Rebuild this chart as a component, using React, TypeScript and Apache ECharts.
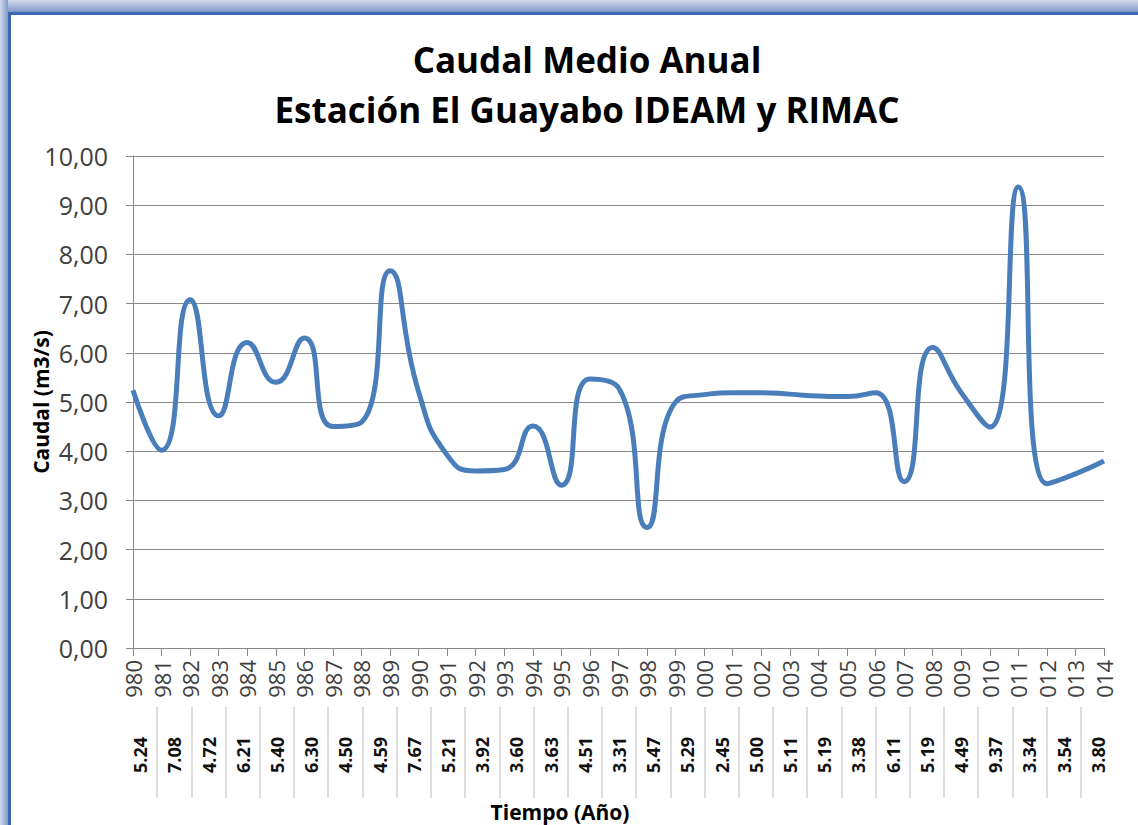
import React, { useEffect, useRef } from "react";
import * as echarts from "echarts";

const years = [
  "1980", "1981", "1982", "1983", "1984", "1985", "1986", "1987", "1988", "1989",
  "1990", "1991", "1992", "1993", "1994", "1995", "1996", "1997", "1998", "1999",
  "2000", "2001", "2002", "2003", "2004", "2005", "2006", "2007", "2008", "2009",
  "2010", "2011", "2012", "2013", "2014",
];

const caudal = [
  5.24, 4.02, 7.08, 4.72, 6.21, 5.40, 6.30, 4.50, 4.59, 7.67,
  5.21, 3.92, 3.60, 3.63, 4.51, 3.31, 5.47, 5.29, 2.45, 5.00,
  5.15, 5.19, 5.19, 5.16, 5.12, 5.11, 5.19, 3.38, 6.11, 5.19,
  4.49, 9.37, 3.34, 3.54, 3.80,
];

const tableValues = [
  "5.24", "7.08", "4.72", "6.21", "5.40", "6.30", "4.50", "4.59", "7.67", "5.21",
  "3.92", "3.60", "3.63", "4.51", "3.31", "5.47", "5.29", "2.45", "5.00", "5.11",
  "5.19", "3.38", "6.11", "5.19", "4.49", "9.37", "3.34", "3.54", "3.80",
];

const titleLines = ["Caudal Medio Anual", "Estación El Guayabo IDEAM y RIMAC"];
const yName = "Caudal (m3/s)";
const xName = "Tiempo (Año)";

const FONT = "'Open Sans', 'Noto Sans', sans-serif";

export default function App() {
  const ref = useRef<HTMLDivElement>(null);

  useEffect(() => {
    const chart = echarts.init(ref.current!, null, { renderer: "svg" });
    chart.setOption({
      animation: false,
      backgroundColor: "#ffffff",
      title: {
        text: titleLines.join("\n"),
        left: 582,
        textAlign: "center",
        top: 29,
        textStyle: {
          fontFamily: FONT,
          fontSize: 35,
          fontWeight: "bold",
          color: "#000",
          lineHeight: 50,
        },
      },
      grid: [
        { left: 133, top: 156, width: 971, height: 492 },
        { left: 123, top: 707, width: 992, height: 91 },
      ],
      xAxis: [
        {
          gridIndex: 0,
          type: "category",
          data: years,
          boundaryGap: false,
          axisLine: { lineStyle: { color: "#868686", width: 1 } },
          axisTick: { show: true, length: 8, lineStyle: { color: "#868686" } },
          axisLabel: {
            interval: 0,
            rotate: 90,
            margin: 12,
            fontSize: 22,
            fontFamily: FONT,
            color: "#404040",
            formatter: (v: string) => v.slice(1),
          },
          splitLine: { show: false },
        },
        {
          gridIndex: 1,
          type: "category",
          data: tableValues,
          position: "bottom",
          axisLine: { show: false },
          axisTick: { show: false },
          axisLabel: {
            interval: 0,
            inside: true,
            rotate: 90,
            margin: 25,
            fontSize: 18,
            fontWeight: "bold",
            fontFamily: FONT,
            color: "#111",
          },
          splitLine: {
            show: true,
            showMinLine: false,
            showMaxLine: false,
            lineStyle: { color: "#d2d2d2", width: 1.5 },
          },
        },
      ],
      yAxis: [
        {
          gridIndex: 0,
          type: "value",
          min: 0,
          max: 10,
          interval: 1,
          name: yName,
          nameLocation: "middle",
          nameGap: 82,
          nameMoveOverlap: false,
          nameTextStyle: {
            fontFamily: FONT,
            fontSize: 21,
            fontWeight: "bold",
            color: "#000",
          },
          axisLine: { show: true, lineStyle: { color: "#868686", width: 1 } },
          axisTick: { show: true, length: 7, lineStyle: { color: "#868686" } },
          axisLabel: {
            margin: 25,
            fontSize: 25,
            fontFamily: FONT,
            color: "#404040",
            formatter: (v: number) => v.toFixed(2).replace(".", ","),
          },
          splitLine: { show: true, lineStyle: { color: "#8a8a8a", width: 1 } },
        },
        { gridIndex: 1, type: "value", show: false },
      ],
      series: [
        {
          type: "line",
          xAxisIndex: 0,
          yAxisIndex: 0,
          data: caudal,
          smooth: 0.55,
          symbol: "none",
          lineStyle: { color: "#4a7ebb", width: 5 },
        },
      ],
      graphic: [
        {
          type: "rect",
          shape: { x: 0, y: 0, width: 1138, height: 12 },
          style: {
            fill: new echarts.graphic.LinearGradient(0, 0, 0, 1, [
              { offset: 0, color: "#d3dcec" },
              { offset: 1, color: "#7f98c9" },
            ]),
          },
          z: 10,
        },
        {
          type: "rect",
          shape: { x: 0, y: 0, width: 8, height: 825 },
          style: {
            fill: new echarts.graphic.LinearGradient(0, 0, 1, 0, [
              { offset: 0, color: "#d3dcec" },
              { offset: 1, color: "#8299c8" },
            ]),
          },
          z: 10,
        },
        {
          type: "rect",
          shape: { x: 8, y: 12, width: 1130, height: 3 },
          style: { fill: "#3d69b3" },
          z: 11,
        },
        {
          type: "rect",
          shape: { x: 8, y: 12, width: 3, height: 813 },
          style: { fill: "#3d69b3" },
          z: 11,
        },
        {
          type: "text",
          x: 560,
          y: 812,
          style: {
            text: xName,
            fontFamily: FONT,
            fontSize: 21,
            fontWeight: "bold",
            fill: "#000",
            align: "center",
            verticalAlign: "middle",
          },
        },
      ],
    });
    return () => chart.dispose();
  }, []);

  return (
    <div
      ref={ref}
      style={{ position: "absolute", left: 0, top: 0, width: 1138, height: 825, background: "#fff" }}
    />
  );
}
